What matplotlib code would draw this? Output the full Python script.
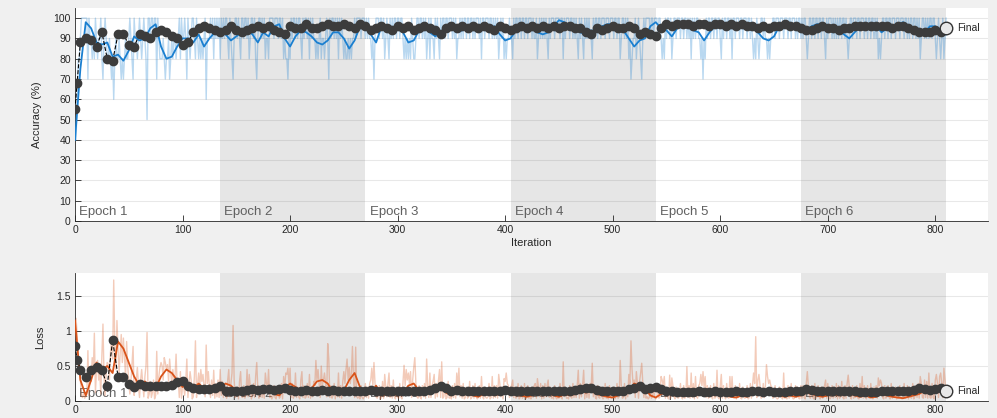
import numpy as np
import matplotlib
matplotlib.use("Agg")
import matplotlib.pyplot as plt

plt.rcParams['font.family'] = ['Liberation Sans', 'DejaVu Sans']

# ---------------- data ----------------
iters_per_epoch = 135
n_epochs = 6
epoch_labels = ["Epoch 1", "Epoch 2", "Epoch 3", "Epoch 4", "Epoch 5", "Epoch 6"]

acc_raw_ep1 = [40, 60, 80, 80, 90, 100, 100, 100, 100, 100,
               100, 70, 100, 90, 90, 80, 90, 80, 100, 90,
               80, 90, 90, 100, 80, 70, 90, 100, 90, 80,
               80, 90, 80, 70, 80, 60, 80, 90, 80, 80,
               90, 80, 70, 80, 70, 80, 90, 80, 80, 90,
               100, 90, 80, 70, 100, 90, 90, 80, 90, 100,
               90, 80, 90, 100, 90, 80, 50, 100, 100, 90,
               100, 100, 90, 100, 100, 70, 100, 90, 80, 80,
               80, 90, 80, 70, 80, 80, 90, 70, 80, 90,
               80, 90, 90, 80, 90, 90, 100, 80, 100, 90,
               90, 100, 90, 70, 100, 90, 80, 90, 100, 100,
               90, 80, 100, 90, 80, 90, 80, 90, 80, 90,
               100, 60, 90, 90, 90, 100, 90, 100, 80, 100,
               90, 100, 90, 100, 80]
acc_raw_ep2 = [100, 90, 100, 90, 100, 100, 90, 80, 100, 90,
               80, 70, 90, 100, 100, 90, 100, 90, 80, 100,
               100, 90, 100, 100, 90, 100, 80, 90, 100, 100,
               90, 100, 80, 70, 90, 100, 100, 90, 100, 90,
               100, 80, 90, 90, 80, 100, 100, 100, 100, 90,
               100, 100, 100, 90, 100, 100, 90, 100, 80, 90,
               80, 80, 70, 90, 80, 100, 90, 100, 100, 90,
               100, 90, 100, 100, 90, 80, 100, 90, 100, 100,
               90, 100, 80, 100, 90, 100, 90, 90, 80, 90,
               80, 90, 100, 80, 90, 90, 80, 90, 100, 90,
               70, 100, 90, 100, 100, 90, 100, 90, 100, 80,
               100, 90, 100, 90, 80, 90, 80, 80, 90, 80,
               90, 80, 90, 90, 100, 90, 100, 100, 100, 100,
               90, 100, 100, 100, 90]
acc_raw_ep3 = [100, 90, 100, 90, 90, 80, 90, 70, 90, 100,
               100, 100, 90, 100, 100, 90, 100, 80, 90, 100,
               90, 80, 100, 90, 100, 90, 100, 100, 90, 100,
               100, 90, 100, 100, 90, 80, 90, 80, 90, 80,
               90, 80, 100, 90, 80, 80, 90, 100, 100, 90,
               100, 100, 90, 100, 90, 100, 80, 90, 100, 80,
               100, 90, 90, 80, 100, 90, 100, 90, 80, 100,
               90, 100, 100, 90, 100, 100, 90, 100, 100, 100,
               90, 100, 90, 100, 80, 90, 90, 100, 90, 100,
               90, 100, 100, 90, 100, 100, 90, 100, 100, 90,
               100, 90, 100, 100, 100, 90, 100, 80, 100, 100,
               90, 100, 100, 100, 90, 100, 100, 90, 100, 90,
               100, 90, 100, 80, 90, 100, 90, 100, 80, 90,
               80, 90, 90, 100, 90]
acc_raw_ep4 = [90, 80, 100, 90, 100, 100, 90, 100, 100, 90,
               100, 100, 90, 100, 100, 90, 100, 100, 100, 90,
               100, 90, 90, 100, 80, 90, 100, 90, 100, 90,
               100, 90, 100, 90, 80, 100, 90, 100, 100, 100,
               90, 100, 100, 100, 100, 90, 100, 100, 80, 100,
               90, 100, 100, 100, 90, 100, 100, 90, 100, 90,
               100, 90, 80, 100, 90, 100, 90, 80, 100, 90,
               100, 90, 100, 90, 90, 80, 100, 90, 100, 100,
               90, 100, 100, 90, 100, 100, 100, 90, 100, 100,
               100, 90, 100, 100, 100, 90, 100, 100, 90, 100,
               100, 80, 90, 100, 100, 90, 100, 90, 100, 80,
               90, 70, 80, 90, 90, 100, 80, 90, 100, 90,
               80, 70, 90, 100, 90, 100, 100, 100, 100, 90,
               100, 100, 90, 100, 100]
acc_raw_ep5 = [100, 90, 100, 100, 90, 80, 90, 80, 100, 90,
               100, 100, 90, 100, 80, 90, 100, 100, 90, 100,
               100, 100, 90, 100, 100, 90, 100, 100, 90, 100,
               90, 100, 80, 100, 90, 100, 90, 100, 100, 90,
               90, 80, 90, 70, 90, 80, 100, 90, 100, 100,
               90, 100, 100, 90, 100, 100, 90, 100, 100, 90,
               80, 100, 90, 100, 100, 90, 100, 100, 90, 100,
               80, 100, 100, 90, 100, 100, 100, 90, 100, 100,
               90, 100, 100, 100, 90, 100, 100, 90, 100, 90,
               80, 90, 80, 100, 90, 80, 90, 100, 100, 90,
               100, 90, 90, 80, 90, 80, 90, 90, 100, 100,
               90, 100, 100, 100, 90, 100, 100, 100, 90, 100,
               100, 100, 90, 100, 100, 90, 100, 100, 100, 90,
               100, 90, 100, 100, 90]
acc_raw_ep6 = [100, 90, 100, 100, 90, 80, 90, 100, 100, 90,
               100, 100, 90, 100, 100, 90, 100, 100, 90, 100,
               100, 90, 80, 100, 90, 100, 100, 100, 90, 100,
               90, 100, 90, 100, 90, 100, 100, 90, 100, 100,
               90, 100, 90, 80, 90, 100, 100, 90, 100, 100,
               100, 90, 100, 100, 90, 100, 100, 100, 90, 100,
               100, 90, 100, 100, 90, 100, 100, 90, 100, 90,
               100, 80, 90, 80, 90, 100, 100, 90, 100, 100,
               90, 100, 100, 90, 100, 100, 100, 90, 100, 100,
               100, 90, 100, 100, 100, 90, 100, 100, 90, 100,
               90, 100, 100, 90, 100, 100, 90, 100, 90, 100,
               80, 90, 100, 100, 90, 100, 90, 100, 90, 100,
               100, 90, 100, 100, 90, 80, 90, 100, 90, 80,
               90, 100, 80, 90, 100]

loss_raw_ep1 = [1.18, 0.95, 0.55, 0.48, 0.30, 0.08, 0.05, 0.12, 0.04, 0.06,
                0.10, 0.72, 0.08, 0.35, 0.28, 0.62, 0.40, 0.97, 0.12, 0.45,
                0.58, 0.30, 0.42, 0.10, 0.65, 1.10, 0.35, 0.08, 0.40, 0.55,
                0.52, 0.30, 0.70, 0.85, 0.60, 1.73, 0.80, 0.45, 1.15, 0.75,
                0.40, 0.68, 0.95, 0.55, 0.90, 0.62, 0.35, 0.85, 0.50, 0.30,
                0.10, 0.28, 0.52, 0.78, 0.08, 0.25, 0.32, 0.48, 0.22, 0.05,
                0.30, 0.45, 0.25, 0.06, 0.35, 0.50, 0.98, 0.04, 0.10, 0.28,
                0.05, 0.12, 0.30, 0.03, 0.08, 0.71, 0.10, 0.35, 0.48, 0.55,
                0.50, 0.30, 0.62, 0.55, 0.45, 0.52, 0.28, 0.60, 0.40, 0.25,
                0.45, 0.30, 0.35, 0.67, 0.22, 0.30, 0.05, 0.42, 0.04, 0.20,
                0.22, 0.08, 0.28, 0.60, 0.05, 0.25, 0.42, 0.30, 0.03, 0.06,
                0.35, 0.86, 0.05, 0.25, 0.40, 0.20, 0.45, 0.28, 0.38, 0.22,
                0.06, 0.80, 0.25, 0.42, 0.20, 0.05, 0.30, 0.08, 0.44, 0.04,
                0.25, 0.06, 0.30, 0.05, 0.45]
loss_raw_ep2 = [0.08, 0.28, 0.05, 0.22, 0.10, 0.04, 0.30, 0.45, 0.06, 0.25,
                0.40, 1.08, 0.30, 0.05, 0.08, 0.20, 0.03, 0.28, 0.42, 0.06,
                0.05, 0.22, 0.04, 0.10, 0.45, 0.06, 0.38, 0.20, 0.03, 0.08,
                0.25, 0.05, 0.36, 0.55, 0.18, 0.04, 0.06, 0.22, 0.05, 0.20,
                0.04, 0.40, 0.25, 0.18, 0.45, 0.05, 0.08, 0.03, 0.06, 0.22,
                0.05, 0.03, 0.10, 0.20, 0.04, 0.06, 0.25, 0.03, 0.35, 0.18,
                0.40, 0.38, 0.47, 0.22, 0.47, 0.05, 0.25, 0.04, 0.08, 0.40,
                0.05, 0.20, 0.06, 0.03, 0.30, 0.42, 0.05, 0.22, 0.04, 0.06,
                0.25, 0.05, 0.38, 0.04, 0.20, 0.06, 0.28, 0.22, 0.58, 0.30,
                0.45, 0.25, 0.05, 0.50, 0.22, 0.30, 0.40, 0.25, 0.06, 0.82,
                0.60, 0.05, 0.22, 0.04, 0.08, 0.25, 0.03, 0.20, 0.06, 0.40,
                0.05, 0.22, 0.04, 0.28, 0.42, 0.25, 0.45, 0.60, 0.30, 0.48,
                0.25, 0.40, 0.78, 0.30, 0.05, 0.77, 0.06, 0.04, 0.08, 0.03,
                0.22, 0.05, 0.03, 0.06, 0.25]
loss_raw_ep3 = [0.05, 0.20, 0.04, 0.25, 0.30, 0.47, 0.22, 0.55, 0.25, 0.06,
                0.04, 0.08, 0.22, 0.03, 0.05, 0.28, 0.04, 0.38, 0.20, 0.06,
                0.25, 0.40, 0.05, 0.22, 0.04, 0.30, 0.06, 0.03, 0.20, 0.05,
                0.04, 0.25, 0.06, 0.03, 0.28, 0.51, 0.22, 0.45, 0.30, 0.40,
                0.25, 0.42, 0.05, 0.30, 0.48, 0.62, 0.25, 0.06, 0.04, 0.22,
                0.05, 0.03, 0.22, 0.06, 0.25, 0.04, 0.60, 0.20, 0.05, 0.40,
                0.05, 0.22, 0.28, 0.38, 0.04, 0.25, 0.06, 0.30, 0.45, 0.05,
                0.56, 0.04, 0.06, 0.22, 0.03, 0.05, 0.28, 0.04, 0.08, 0.03,
                0.22, 0.05, 0.25, 0.04, 0.40, 0.20, 0.47, 0.06, 0.22, 0.04,
                0.25, 0.03, 0.05, 0.20, 0.04, 0.06, 0.28, 0.03, 0.05, 0.22,
                0.04, 0.25, 0.06, 0.03, 0.05, 0.22, 0.04, 0.35, 0.06, 0.03,
                0.20, 0.05, 0.04, 0.06, 0.25, 0.03, 0.05, 0.35, 0.04, 0.22,
                0.05, 0.22, 0.04, 0.38, 0.25, 0.06, 0.20, 0.03, 0.32, 0.28,
                0.40, 0.25, 0.22, 0.05, 0.20]
loss_raw_ep4 = [0.22, 0.30, 0.05, 0.20, 0.04, 0.06, 0.25, 0.03, 0.05, 0.22,
                0.04, 0.06, 0.25, 0.03, 0.05, 0.22, 0.04, 0.06, 0.03, 0.20,
                0.05, 0.22, 0.25, 0.04, 0.32, 0.20, 0.06, 0.25, 0.03, 0.22,
                0.04, 0.25, 0.06, 0.22, 0.30, 0.05, 0.20, 0.04, 0.06, 0.03,
                0.22, 0.05, 0.03, 0.06, 0.04, 0.25, 0.05, 0.03, 0.56, 0.06,
                0.20, 0.04, 0.05, 0.03, 0.22, 0.06, 0.04, 0.25, 0.05, 0.20,
                0.05, 0.22, 0.44, 0.04, 0.25, 0.06, 0.22, 0.44, 0.03, 0.20,
                0.05, 0.22, 0.04, 0.25, 0.20, 0.54, 0.06, 0.22, 0.04, 0.03,
                0.22, 0.05, 0.04, 0.20, 0.06, 0.03, 0.05, 0.25, 0.04, 0.06,
                0.03, 0.22, 0.05, 0.04, 0.06, 0.20, 0.03, 0.05, 0.25, 0.04,
                0.06, 0.58, 0.22, 0.04, 0.05, 0.25, 0.03, 0.20, 0.06, 0.38,
                0.25, 0.86, 0.45, 0.22, 0.30, 0.05, 0.42, 0.25, 0.04, 0.28,
                0.40, 0.54, 0.25, 0.05, 0.22, 0.04, 0.06, 0.03, 0.05, 0.20,
                0.04, 0.06, 0.22, 0.05, 0.03]
loss_raw_ep5 = [0.05, 0.22, 0.04, 0.06, 0.35, 0.30, 0.22, 0.35, 0.04, 0.20,
                0.05, 0.03, 0.37, 0.04, 0.33, 0.22, 0.06, 0.03, 0.20, 0.05,
                0.04, 0.06, 0.25, 0.05, 0.03, 0.22, 0.04, 0.06, 0.49, 0.05,
                0.22, 0.04, 0.40, 0.05, 0.25, 0.03, 0.35, 0.06, 0.04, 0.22,
                0.25, 0.38, 0.22, 0.42, 0.20, 0.35, 0.05, 0.22, 0.04, 0.06,
                0.22, 0.05, 0.03, 0.25, 0.04, 0.06, 0.44, 0.05, 0.03, 0.22,
                0.38, 0.04, 0.22, 0.06, 0.03, 0.25, 0.05, 0.04, 0.35, 0.06,
                0.35, 0.05, 0.04, 0.22, 0.03, 0.06, 0.05, 0.25, 0.04, 0.03,
                0.20, 0.05, 0.04, 0.06, 0.22, 0.03, 0.05, 0.25, 0.04, 0.22,
                0.40, 0.25, 0.92, 0.05, 0.30, 0.38, 0.22, 0.04, 0.06, 0.25,
                0.05, 0.22, 0.52, 0.35, 0.25, 0.30, 0.22, 0.20, 0.04, 0.06,
                0.22, 0.05, 0.03, 0.04, 0.20, 0.06, 0.05, 0.03, 0.40, 0.04,
                0.05, 0.03, 0.22, 0.04, 0.06, 0.25, 0.05, 0.03, 0.04, 0.22,
                0.05, 0.20, 0.04, 0.03, 0.22]
loss_raw_ep6 = [0.04, 0.22, 0.05, 0.03, 0.25, 0.42, 0.20, 0.05, 0.04, 0.22,
                0.05, 0.03, 0.25, 0.04, 0.06, 0.22, 0.05, 0.03, 0.20, 0.04,
                0.05, 0.22, 0.30, 0.04, 0.25, 0.06, 0.03, 0.05, 0.22, 0.04,
                0.20, 0.05, 0.25, 0.03, 0.22, 0.04, 0.06, 0.28, 0.05, 0.03,
                0.22, 0.04, 0.25, 0.37, 0.20, 0.05, 0.03, 0.22, 0.04, 0.06,
                0.05, 0.22, 0.04, 0.03, 0.25, 0.05, 0.35, 0.04, 0.22, 0.05,
                0.03, 0.22, 0.05, 0.04, 0.25, 0.06, 0.03, 0.20, 0.05, 0.22,
                0.04, 0.33, 0.22, 0.30, 0.25, 0.05, 0.03, 0.22, 0.04, 0.06,
                0.22, 0.05, 0.03, 0.25, 0.04, 0.06, 0.05, 0.20, 0.03, 0.05,
                0.04, 0.22, 0.05, 0.03, 0.06, 0.25, 0.04, 0.05, 0.22, 0.03,
                0.20, 0.05, 0.04, 0.25, 0.03, 0.06, 0.22, 0.05, 0.25, 0.04,
                0.35, 0.25, 0.05, 0.04, 0.30, 0.05, 0.28, 0.04, 0.40, 0.05,
                0.04, 0.25, 0.05, 0.03, 0.30, 0.38, 0.25, 0.05, 0.35, 0.40,
                0.25, 0.05, 0.47, 0.30, 0.06]

# smoothed curves, sampled every 5 iterations (0, 5, ..., 810)
acc_smooth = [40, 75, 98, 95, 88, 87, 88, 81, 82, 79, 84, 91, 89, 90, 95, 97, 86, 80, 81, 86,
              90, 90, 88, 92, 86, 90, 93, 94, 92, 89, 91, 93, 94, 92, 88, 93, 91, 96, 97, 90,
              86, 91, 94, 93, 91, 88, 87, 89, 93, 93, 90, 85, 89, 96, 97, 92, 88, 96, 95, 92,
              95, 93, 88, 89, 94, 95, 93, 91, 93, 96, 97, 93, 94, 96, 95, 96, 97, 94, 96, 92,
              89, 90, 94, 96, 96, 95, 93, 92, 93, 96, 99, 98, 96, 95, 93, 92, 94, 93, 96, 97,
              97, 95, 94, 90, 86, 89, 90, 96, 98, 95, 94, 91, 95, 97, 96, 94, 93, 89, 93, 96,
              96, 95, 97, 97, 96, 97, 95, 93, 90, 89, 91, 96, 97, 97, 96, 95, 94, 96, 97, 97,
              95, 93, 94, 92, 90, 93, 96, 96, 97, 96, 93, 95, 95, 97, 98, 96, 94, 94, 93, 96,
              96, 94, 92]
loss_smooth = [1.15, 0.30, 0.08, 0.30, 0.55, 0.45, 0.50, 0.40, 0.85, 0.75, 0.55, 0.35, 0.22, 0.28, 0.20,
               0.18, 0.35, 0.45, 0.40, 0.30, 0.20, 0.25, 0.18, 0.25, 0.18, 0.22, 0.15, 0.18, 0.25, 0.22,
               0.15, 0.12, 0.18, 0.15, 0.20, 0.12, 0.18, 0.10, 0.08, 0.18, 0.25, 0.20, 0.15, 0.12, 0.18,
               0.28, 0.30, 0.25, 0.12, 0.10, 0.15, 0.30, 0.40, 0.20, 0.08, 0.12, 0.22, 0.08, 0.10, 0.12,
               0.08, 0.12, 0.22, 0.25, 0.15, 0.10, 0.18, 0.20, 0.25, 0.12, 0.08, 0.15, 0.12, 0.10, 0.08,
               0.06, 0.10, 0.12, 0.08, 0.10, 0.15, 0.12, 0.10, 0.08, 0.06, 0.08, 0.12, 0.10, 0.12, 0.08,
               0.06, 0.10, 0.08, 0.10, 0.15, 0.12, 0.15, 0.10, 0.08, 0.06, 0.05, 0.08, 0.12, 0.15, 0.25,
               0.22, 0.18, 0.08, 0.05, 0.10, 0.12, 0.15, 0.10, 0.08, 0.12, 0.10, 0.12, 0.15, 0.12, 0.08,
               0.10, 0.08, 0.06, 0.05, 0.08, 0.06, 0.15, 0.18, 0.15, 0.16, 0.12, 0.08, 0.06, 0.08, 0.06,
               0.08, 0.12, 0.10, 0.08, 0.06, 0.08, 0.10, 0.08, 0.10, 0.12, 0.08, 0.06, 0.08, 0.05, 0.06,
               0.10, 0.08, 0.06, 0.05, 0.04, 0.06, 0.08, 0.10, 0.15, 0.12, 0.14, 0.18, 0.10]

# validation, at iterations 0, 2, 5, 10, ..., 810
val_acc = [55, 68, 88, 90, 89, 86, 93, 80, 79, 92, 92, 87, 86, 92, 91, 90, 93, 94, 93, 91,
           90, 87, 88, 93, 95, 96, 95, 94, 93, 94, 96, 94, 93, 94, 95, 96, 95, 96, 94, 93,
           92, 96, 95, 95, 97, 95, 95, 96, 97, 96, 96, 97, 96, 95, 97, 96, 94, 95, 96, 95,
           94, 96, 95, 96, 94, 95, 96, 95, 94, 92, 95, 96, 95, 96, 95, 96, 95, 96, 95, 94,
           96, 95, 94, 95, 96, 95, 96, 95, 96, 95, 96, 95, 96, 96, 95, 95, 93, 92, 95, 94,
           95, 96, 95, 95, 96, 95, 92, 93, 92, 91, 95, 97, 96, 97, 97, 97, 96, 97, 97, 96,
           97, 97, 96, 97, 96, 97, 96, 96, 95, 96, 95, 96, 96, 97, 96, 96, 95, 94, 94, 95,
           96, 95, 95, 94, 95, 95, 96, 96, 96, 96, 96, 96, 96, 95, 96, 96, 95, 94, 93, 93,
           93, 94, 93, 95]
val_loss = [0.79, 0.59, 0.45, 0.35, 0.44, 0.49, 0.44, 0.22, 0.87, 0.35, 0.34, 0.25, 0.20, 0.25, 0.22,
            0.22, 0.21, 0.22, 0.21, 0.23, 0.27, 0.29, 0.22, 0.18, 0.17, 0.17, 0.17, 0.18, 0.21, 0.15,
            0.14, 0.15, 0.15, 0.16, 0.17, 0.16, 0.17, 0.17, 0.16, 0.17, 0.19, 0.16, 0.15, 0.15, 0.16,
            0.15, 0.15, 0.16, 0.15, 0.16, 0.15, 0.14, 0.15, 0.15, 0.14, 0.15, 0.16, 0.15, 0.14, 0.15,
            0.15, 0.15, 0.14, 0.15, 0.15, 0.14, 0.15, 0.16, 0.18, 0.21, 0.18, 0.15, 0.16, 0.15, 0.15,
            0.14, 0.14, 0.14, 0.14, 0.14, 0.15, 0.16, 0.15, 0.14, 0.14, 0.14, 0.14, 0.14, 0.15, 0.15,
            0.15, 0.14, 0.15, 0.15, 0.16, 0.17, 0.18, 0.18, 0.16, 0.15, 0.14, 0.14, 0.15, 0.15, 0.17,
            0.19, 0.21, 0.17, 0.18, 0.20, 0.17, 0.14, 0.14, 0.13, 0.13, 0.13, 0.13, 0.14, 0.13, 0.13,
            0.14, 0.13, 0.13, 0.13, 0.14, 0.13, 0.13, 0.14, 0.14, 0.13, 0.14, 0.13, 0.13, 0.13, 0.14,
            0.14, 0.15, 0.17, 0.16, 0.15, 0.14, 0.14, 0.15, 0.15, 0.15, 0.14, 0.14, 0.13, 0.13, 0.13,
            0.13, 0.14, 0.14, 0.14, 0.14, 0.15, 0.15, 0.16, 0.18, 0.17, 0.16, 0.17, 0.18, 0.15]

acc_raw = acc_raw_ep1 + acc_raw_ep2 + acc_raw_ep3 + acc_raw_ep4 + acc_raw_ep5 + acc_raw_ep6
loss_raw = loss_raw_ep1 + loss_raw_ep2 + loss_raw_ep3 + loss_raw_ep4 + loss_raw_ep5 + loss_raw_ep6

raw_x = np.arange(1, len(acc_raw) + 1)
raw_x_loss = np.arange(1, len(loss_raw) + 1)
acc_smooth_x = np.arange(len(acc_smooth)) * 5
loss_smooth_x = np.arange(len(loss_smooth)) * 5


def val_positions(n):
    return np.concatenate([[0, 2], np.arange(1, n - 1) * 5])


val_acc_x = val_positions(len(val_acc))
val_loss_x = val_positions(len(val_loss))

# ---------------- styling ----------------
BG = '#f0f0f0'
TXT = '#262626'
SHADE = '#e6e6e6'
BLUE = '#1a7fd0'
ORANGE = '#d95319'
VALC = '#3c3c3c'

fig = plt.figure(figsize=(9.97, 4.18), dpi=100, facecolor=BG)
W, H = 997.0, 418.0
x0, x1 = 75.0, 988.0
xmax = 849.0

ax1 = fig.add_axes([x0 / W, (H - 221) / H, (x1 - x0) / W, (221 - 8) / H])
ax2 = fig.add_axes([x0 / W, (H - 401) / H, (x1 - x0) / W, (401 - 273) / H])


def style(ax, ylim, yticks, ylabels):
    ax.set_facecolor('white')
    ax.set_xlim(0, xmax)
    ax.set_ylim(*ylim)
    ax.set_yticks(yticks)
    ax.set_yticklabels(ylabels)
    ax.set_xticks(np.arange(0, 801, 100))
    for s in ['top', 'right']:
        ax.spines[s].set_visible(False)
    for s in ['left', 'bottom']:
        ax.spines[s].set_color(TXT)
        ax.spines[s].set_linewidth(0.6)
    ax.tick_params(direction='in', length=4, width=0.6, colors=TXT, labelsize=7.5, pad=3)
    ax.yaxis.grid(True, color='#262626', alpha=0.1, lw=0.8)
    ax.set_axisbelow('line')
    for e in range(n_epochs):
        start = e * iters_per_epoch
        if e % 2 == 1:
            ax.axvspan(start, start + iters_per_epoch, color=SHADE, lw=0, zorder=0)


style(ax1, (0, 105), np.arange(0, 101, 10), [str(v) for v in range(0, 101, 10)])
style(ax2, (0, 1.83), [0, 0.5, 1, 1.5], ['0', '0.5', '1', '1.5'])

# epoch labels
for e, lab in enumerate(epoch_labels):
    start = e * iters_per_epoch
    ax1.text(start + 4, 1.3, lab, fontsize=9.5, color='#606060', ha='left', va='bottom', zorder=1)
    ax2.text(start + 4, 0.02, lab, fontsize=9.5, color='#606060', ha='left', va='bottom', zorder=1)

# accuracy
ax1.plot(raw_x, acc_raw, color=BLUE, alpha=0.3, lw=1.0, zorder=2)
ax1.plot(acc_smooth_x, acc_smooth, color=BLUE, lw=1.3, zorder=3)
ax1.plot(val_acc_x, val_acc, color='black', ls='--', lw=0.8, marker='o', ms=6,
         mfc=VALC, mec=VALC, zorder=4)
ax1.plot([val_acc_x[-1]], [val_acc[-1]], marker='o', ms=9, mfc='#e8e8e8', mec='#333333',
         mew=1.0, ls='none', zorder=5)
ax1.text(val_acc_x[-1] + 10, val_acc[-1], 'Final', fontsize=7.5, color=TXT, va='center', ha='left')

# loss
ax2.plot(raw_x_loss, loss_raw, color=ORANGE, alpha=0.3, lw=1.0, zorder=2)
ax2.plot(loss_smooth_x, loss_smooth, color=ORANGE, lw=1.3, zorder=3)
ax2.plot(val_loss_x, val_loss, color='black', ls='--', lw=0.8, marker='o', ms=6,
         mfc=VALC, mec=VALC, zorder=4)
ax2.plot([val_loss_x[-1]], [val_loss[-1]], marker='o', ms=9, mfc='#e8e8e8', mec='#333333',
         mew=1.0, ls='none', zorder=5)
ax2.text(val_loss_x[-1] + 10, val_loss[-1], 'Final', fontsize=7.5, color=TXT, va='center', ha='left')

ax1.set_xlabel('Iteration', fontsize=8, color=TXT, labelpad=2)
ax1.set_ylabel('Accuracy (%)', fontsize=8, color=TXT, labelpad=8)
ax2.set_ylabel('Loss', fontsize=8, color=TXT, labelpad=8)

fig.savefig('out.png', dpi=100, facecolor=BG)
